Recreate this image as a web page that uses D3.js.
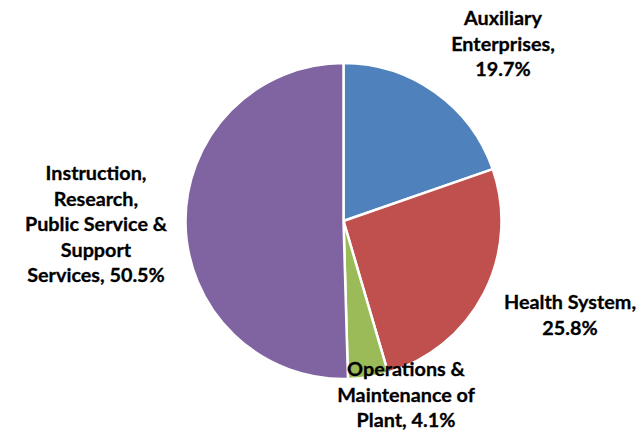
<!DOCTYPE html>
<html>
<head>
<meta charset="utf-8">
<script src="https://cdn.jsdelivr.net/npm/d3@7/dist/d3.min.js"></script>
<style>
  html, body { margin: 0; padding: 0; background: #fff; }
  svg { display: block; }
  text { font-family: Lato, "Open Sans", "Liberation Sans", sans-serif; font-weight: bold; fill: #000; }
</style>
</head>
<body>
<svg id="chart" width="644" height="431"></svg>
<script>
const categories = ["Auxiliary Enterprises", "Health System", "Operations & Maintenance of Plant", "Instruction, Research, Public Service & Support Services"];
const values = [19.7, 25.8, 4.1, 50.5];
const labelLines = [
  ["Auxiliary", "Enterprises,", "19.7%"],
  ["Health System,", "25.8%"],
  ["Operations &", "Maintenance of", "Plant, 4.1%"],
  ["Instruction,", "Research,", "Public Service &", "Support", "Services, 50.5%"]
];
const colors = ["#4F81BD", "#C0504D", "#9BBB59", "#8064A2"];

const svg = d3.select("#chart");
const cx = 343.5, cy = 221, r = 158;

const data = categories.map((c, i) => ({ name: c, value: values[i], lines: labelLines[i], color: colors[i] }));

const pie = d3.pie().value(d => d.value).sort(null);
const arc = d3.arc().innerRadius(0).outerRadius(r);
const arcs = pie(data);

const g = svg.append("g").attr("transform", `translate(${cx},${cy})`);
g.selectAll("path").data(arcs).enter().append("path")
  .attr("d", arc)
  .attr("fill", d => d.data.color)
  .attr("stroke", "#fff")
  .attr("stroke-width", 2.5)
  .attr("stroke-linejoin", "round");

// label anchor positions (center x, first baseline y)
const labelPos = [
  [503, 25],
  [570, 309],
  [406, 376],
  [96, 180]
];
const lineH = 25.5;
const fontSize = 19.8;

arcs.forEach((a, i) => {
  const [lx, ly] = labelPos[i];
  const t = svg.append("text")
    .attr("text-anchor", "middle")
    .attr("font-size", fontSize)
    .attr("stroke", "#000")
    .attr("stroke-width", 0.3);
  a.data.lines.forEach((ln, j) => {
    t.append("tspan").attr("x", lx).attr("y", ly + j * lineH).text(ln);
  });
});
</script>
</body>
</html>
